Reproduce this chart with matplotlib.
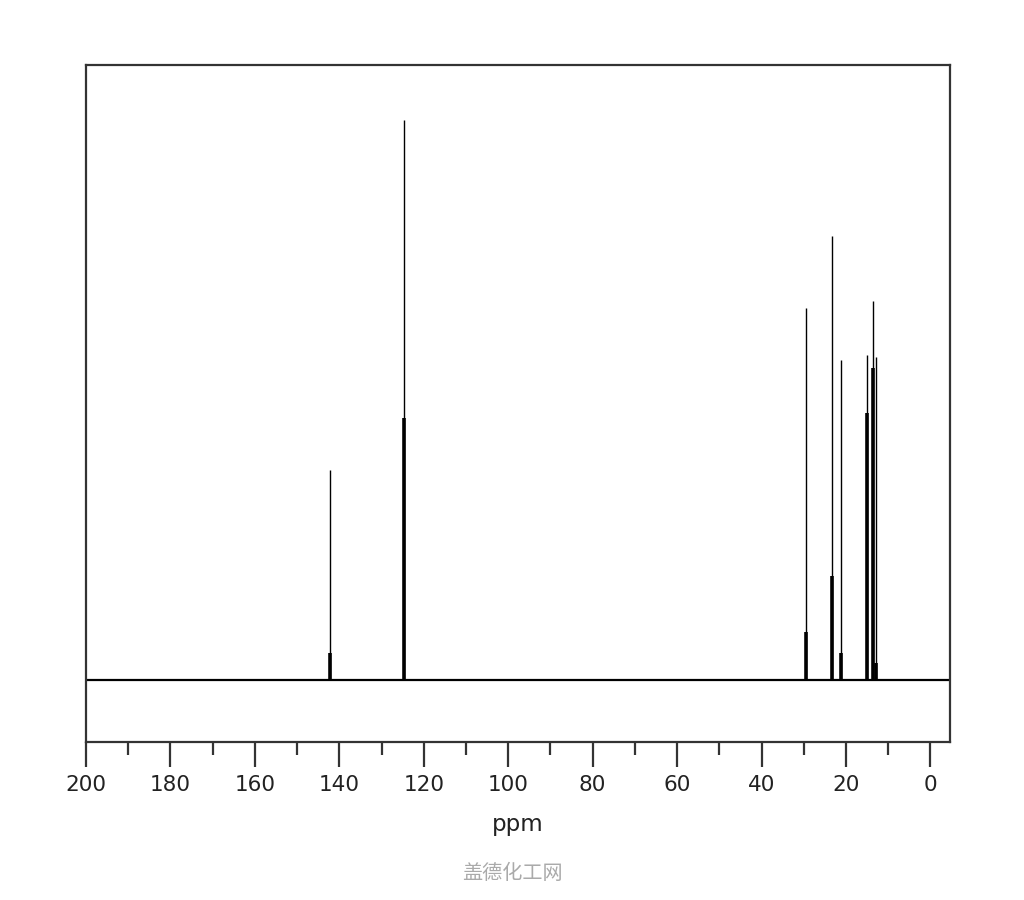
import matplotlib.pyplot as plt
from matplotlib.ticker import MultipleLocator

# 13C NMR peaks (ppm) with relative intensities
peak_ppm = [142.2, 124.6, 29.5, 23.3, 21.1, 15.0, 13.6, 12.9]
peak_height = [37.5, 100.0, 66.4, 79.3, 57.1, 58.0, 67.7, 57.7]
# short, heavier line at the foot of each peak
base_height = [4.8, 46.8, 8.6, 18.6, 4.8, 47.7, 55.7, 3.0]

tick_labels = ["200", "180", "160", "140", "120", "100", "80", "60", "40", "20", "0"]

fig = plt.figure(figsize=(10.24, 9), dpi=100)
ax = fig.add_axes([0.084, 0.1756, 0.844, 0.7522])

ax.axhline(0, color="black", linewidth=1.6)
ax.vlines(peak_ppm, 0, peak_height, color="black", linewidth=1.0)
ax.vlines(peak_ppm, 0, base_height, color="black", linewidth=2.6)

ax.set_xlim(200, -4.7)
ax.set_ylim(-11.07, 109.8)

ax.set_xticks(range(200, -1, -20))
ax.set_xticklabels(tick_labels)
ax.xaxis.set_minor_locator(MultipleLocator(10))
ax.tick_params(axis="x", which="major", direction="out", length=18, width=1.6,
               color="#333333", labelsize=15.5, pad=6, labelcolor="#222222")
ax.tick_params(axis="x", which="minor", direction="out", length=9, width=1.6,
               color="#333333")
ax.set_yticks([])

for side in ["top", "bottom", "left", "right"]:
    ax.spines[side].set_linewidth(1.6)
    ax.spines[side].set_color("#333333")

ax.set_xlabel("ppm", fontsize=16.5, labelpad=13, color="#222222")

fig.text(0.5, 0.029, "盖德化工网", ha="center", va="center", fontsize=14.5,
         color="#aaaaaa", family=["Noto Sans CJK SC", "DejaVu Sans"])

fig.savefig("out.png", dpi=100)
plt.close(fig)
